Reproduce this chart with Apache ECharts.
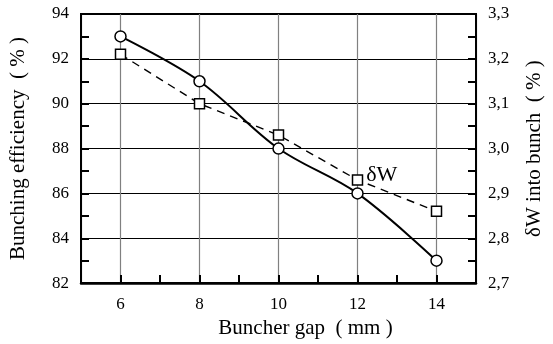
<!DOCTYPE html>
<html>
<head>
<meta charset="utf-8">
<script src="https://cdn.jsdelivr.net/npm/echarts@6/dist/echarts.min.js"></script>
<style>
  html, body { margin: 0; padding: 0; background: #fff; }
  #chart { width: 553px; height: 344px; }
</style>
</head>
<body>
<div id="chart"></div>
<script>
// values
const gapMm = [6, 8, 10, 12, 14];
const efficiency = [93, 91, 88, 86, 83];
const deltaW = [3.21, 3.10, 3.03, 2.93, 2.86];
const deltaWLabelAt = 12;

const FONT = "Liberation Serif";
const ink = "#000";

const chart = echarts.init(document.getElementById("chart"), null, { renderer: "canvas" });

const effData = gapMm.map((x, i) => [x, efficiency[i]]);
const dwData = gapMm.map((x, i) => {
  const item = { value: [x, deltaW[i]] };
  if (x === deltaWLabelAt) {
    item.label = {
      show: true,
      position: "right",
      distance: 3,
      offset: [0, -5],
      formatter: "δW",
      fontFamily: FONT,
      fontSize: 22,
      color: ink,
    };
  }
  return item;
});

chart.setOption({
  animation: false,
  grid: {
    left: 79, right: 71, top: 14, bottom: 60,
    show: true, borderColor: ink, borderWidth: 2, backgroundColor: "transparent",
  },
  xAxis: [
    {
      // labels + vertical grid at even values
      type: "value", min: 5, max: 15, splitNumber: 5,
      position: "bottom",
      name: "Buncher gap  ( mm )",
      nameLocation: "middle",
      nameGap: 24,
      nameTextStyle: { fontFamily: FONT, fontSize: 21, color: ink, padding: [0, 0, 0, 54] },
      axisLine: { show: true, lineStyle: { color: ink, width: 2.5 } },
      axisTick: { show: false },
      axisLabel: {
        fontFamily: FONT, fontSize: 17, color: ink, margin: 13,
        formatter: (v) => (v % 2 === 0 ? String(v) : ""),
      },
      splitLine: { show: true, lineStyle: { color: "#808080", width: 1.2 } },
    },
    {
      // inward ticks every 1 mm
      type: "value", min: 5, max: 15, interval: 1,
      position: "bottom",
      axisLine: { show: false },
      axisTick: { show: true, inside: true, length: 8, lineStyle: { color: ink, width: 2 } },
      axisLabel: { show: false },
      splitLine: { show: false },
    },
  ],
  yAxis: [
    {
      type: "value", min: 82, max: 94, interval: 2,
      position: "left",
      name: "Bunching efficiency  ( % )",
      nameLocation: "middle",
      nameGap: 52,
      nameRotate: 90,
      nameTextStyle: { fontFamily: FONT, fontSize: 21, color: ink },
      axisLine: { show: true, lineStyle: { color: ink, width: 2 } },
      axisTick: { show: true, inside: true, length: 8, lineStyle: { color: ink, width: 2 } },
      minorTick: { show: true, splitNumber: 2, length: 8, lineStyle: { color: ink, width: 2 } },
      axisLabel: { fontFamily: FONT, fontSize: 17, color: ink, margin: 12 },
      splitLine: { show: true, lineStyle: { color: ink, width: 1 } },
    },
    {
      type: "value", min: 2.7, max: 3.3, interval: 0.1,
      position: "right",
      name: "δW into bunch  ( % )",
      nameLocation: "middle",
      nameGap: 48,
      nameRotate: 90,
      nameTextStyle: { fontFamily: FONT, fontSize: 21, color: ink },
      axisLine: { show: true, lineStyle: { color: ink, width: 2 } },
      axisTick: { show: true, inside: true, length: 8, lineStyle: { color: ink, width: 2 } },
      minorTick: { show: true, splitNumber: 2, length: 8, lineStyle: { color: ink, width: 2 } },
      axisLabel: {
        fontFamily: FONT, fontSize: 17, color: ink, margin: 12,
        formatter: (v) => v.toFixed(1).replace(".", ","),
      },
      splitLine: { show: false },
    },
  ],
  series: [
    {
      name: "Bunching efficiency",
      type: "line",
      xAxisIndex: 0, yAxisIndex: 0,
      data: effData,
      smooth: 0.35,
      symbol: "circle",
      symbolSize: 11,
      showAllSymbol: true,
      lineStyle: { color: ink, width: 2 },
      itemStyle: { color: "#fff", borderColor: ink, borderWidth: 1.5 },
      z: 3,
    },
    {
      name: "δW",
      type: "line",
      xAxisIndex: 0, yAxisIndex: 1,
      data: dwData,
      symbol: "rect",
      symbolSize: 10,
      showAllSymbol: true,
      lineStyle: { color: ink, width: 1.4, type: [8, 6] },
      itemStyle: { color: "#fff", borderColor: ink, borderWidth: 1.5 },
      z: 4,
    },
  ],
});
</script>
</body>
</html>
